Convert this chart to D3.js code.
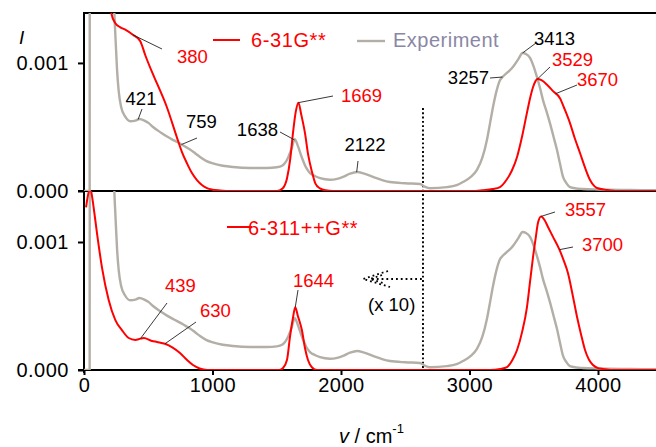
<!DOCTYPE html>
<html>
<head>
<meta charset="utf-8">
<script src="https://cdn.jsdelivr.net/npm/d3@7"></script>
<style>
  html, body { margin: 0; padding: 0; background: #fff; }
  svg { display: block; font-family: "Liberation Sans", Arial, sans-serif; }
</style>
</head>
<body>
<svg id="chart" width="656" height="447"></svg>
<script>
// ---- Spectra: wavenumber (cm^-1) and intensity I ----
// Experimental IR spectrum (drawn in both panels)
const expWavenumber = [0, 44, 46.5, 200, 228, 236, 244, 257, 270, 288, 321, 360, 400, 430, 470, 504, 537, 600, 646, 700, 747, 790, 825, 865, 903, 950, 1004, 1080, 1160, 1292, 1424, 1500, 1545, 1588, 1615, 1640, 1665, 1696, 1730, 1759, 1800, 1837, 1914, 1970, 2016, 2070, 2125, 2180, 2249, 2320, 2381, 2500, 2615, 2650, 2693, 2825, 2900, 2949, 3010, 3058, 3100, 3136, 3160, 3183, 3210, 3237, 3257, 3300, 3331, 3380, 3413, 3440, 3471, 3500, 3525, 3550, 3572, 3600, 3626, 3655, 3681, 3705, 3728, 3755, 3782, 3830, 3883, 4000, 4250, 4500];
const expIntensity = [0, 0, 0.006, 0.006, 0.0017, 0.00140, 0.00122, 0.00095, 0.00078, 0.00066, 0.00058, 0.000545, 0.00055, 0.000562, 0.00055, 0.00053, 0.0005, 0.000455, 0.000425, 0.000395, 0.00037, 0.000345, 0.000325, 0.000295, 0.000265, 0.000235, 0.000215, 0.000197, 0.000187, 0.00018, 0.00018, 0.000185, 0.0002, 0.00026, 0.00033, 0.000405, 0.00035, 0.00026, 0.00018, 0.00014, 0.000115, 0.0001, 0.000088, 0.000095, 0.00011, 0.000135, 0.000148, 0.000135, 0.00011, 0.000085, 0.00007, 0.00006, 0.000055, 0.000035, 0.000022, 0.00003, 0.000045, 0.00007, 0.00011, 0.000165, 0.00026, 0.0004, 0.00053, 0.000656, 0.00078, 0.000865, 0.00089, 0.00093, 0.00096, 0.00103, 0.001078, 0.00107, 0.00104, 0.00097, 0.00089, 0.0008, 0.00071, 0.00062, 0.00053, 0.00042, 0.00032, 0.00021, 0.00011, 0.00006, 0.00003, 0.00002, 0.000016, 0.000012, 0.000008, 0.000005];

// Calculated spectrum, 6-31G** basis
const b631Wavenumber = [150, 212, 244, 280, 321, 380, 438, 477, 529, 568, 643, 721, 760, 802, 840, 879, 920, 957, 1000, 1058, 1150, 1500, 1545, 1580, 1605, 1626, 1648, 1669, 1690, 1720, 1745, 1774, 1800, 1837, 1880, 1938, 3050, 3100, 3180, 3237, 3290, 3330, 3370, 3410, 3447, 3475, 3494, 3515, 3529, 3560, 3603, 3650, 3704, 3740, 3782, 3820, 3860, 3900, 3938, 3970, 3992, 4070, 4150, 4500];
const b631Intensity = [0.002, 0.00139, 0.00131, 0.00128, 0.00126, 0.00122, 0.00117, 0.00106, 0.00093, 0.00084, 0.00066, 0.000425, 0.00031, 0.000215, 0.00014, 0.000085, 0.000045, 0.000022, 0.00001, 0.000004, 0, 0, 0.00002, 0.0001, 0.00025, 0.00045, 0.00062, 0.00069, 0.0006, 0.00045, 0.00028, 0.00015, 0.00006, 0.00002, 0.000005, 0, 0, 0.000005, 0.000015, 0.000031, 0.00009, 0.00016, 0.000266, 0.00043, 0.00061, 0.00074, 0.00081, 0.00086, 0.000875, 0.000865, 0.00083, 0.00078, 0.000725, 0.00064, 0.00053, 0.00041, 0.000297, 0.00018, 0.000086, 0.00004, 0.000023, 0.000008, 0, 0];

// Calculated spectrum, 6-311++G** basis
const b6311Wavenumber = [16, 30, 49, 62, 75, 101, 140, 192, 244, 296, 348, 399, 439, 465, 529, 568, 630, 690, 747, 800, 848, 900, 957, 1520, 1549, 1580, 1603, 1625, 1644, 1665, 1696, 1720, 1743, 1775, 1813, 3160, 3240, 3292, 3335, 3370, 3410, 3447, 3470, 3494, 3515, 3533, 3557, 3585, 3611, 3650, 3700, 3735, 3766, 3800, 3837, 3870, 3899, 3930, 3961, 4000, 4039, 4100, 4500];
const b6311Intensity = [0.00127, 0.00136, 0.00142, 0.00136, 0.00127, 0.00107, 0.0008, 0.000547, 0.00039, 0.00031, 0.00025, 0.000235, 0.000245, 0.00025, 0.000227, 0.000219, 0.000205, 0.000175, 0.000133, 0.00008, 0.000039, 0.000012, 0, 0, 0.000016, 0.00008, 0.000258, 0.0004, 0.00049, 0.00042, 0.00031, 0.00017, 0.000078, 0.00002, 0, 0, 0.000008, 0.000023, 0.00008, 0.000156, 0.0003, 0.00049, 0.00068, 0.00088, 0.00103, 0.00115, 0.0012, 0.00117, 0.001117, 0.00104, 0.00094, 0.00085, 0.000758, 0.0006, 0.000414, 0.00027, 0.000156, 0.00008, 0.000039, 0.000015, 0.000008, 0, 0];

// Axes, legend and band labels
const xTicks = [0, 1000, 2000, 3000, 4000];
const yTicks = [0, 0.001];
const yTickLabels = ["0.000", "0.001"];
const seriesNames = { b631: "6-31G**", b6311: "6-311++G**", exp: "Experiment" };
const bands631 = [380, 1669, 3529, 3670];
const bandsExp = [421, 759, 1638, 2122, 3257, 3413];
const bands6311 = [439, 630, 1644, 3557, 3700];
const scaleNote = "(x 10)";
const splitWavenumber = 2638;

// ---- Layout ----
const W = 656, H = 447;
const RED = "#ff0000", GREY = "#b3afa7", LEGEND_GREY = "#8a87a6";

const svg = d3.select("#chart");
const x = d3.scaleLinear().domain([0, 4500]).range([84, 662.25]);

const panels = [
  { top: 13, base: 191, y: d3.scaleLinear().domain([0, 0.00139]).range([191, 13]) },
  { top: 191, base: 370, y: d3.scaleLinear().domain([0, 0.0014]).range([370, 190.8]) }
];

const defs = svg.append("defs");
panels.forEach((p, i) => {
  defs.append("clipPath").attr("id", "clip" + i)
    .append("rect").attr("x", 84).attr("y", p.top).attr("width", W - 84).attr("height", p.base - p.top);
});

// frame lines
const frame = svg.append("g").attr("stroke", "#000").attr("stroke-width", 2).attr("fill", "none");
frame.append("line").attr("x1", 84).attr("x2", W).attr("y1", 13).attr("y2", 13);
frame.append("line").attr("x1", 78).attr("x2", W).attr("y1", 191).attr("y2", 191);
frame.append("line").attr("x1", 78).attr("x2", W).attr("y1", 370).attr("y2", 370);
frame.append("line").attr("x1", 84).attr("x2", 84).attr("y1", 12).attr("y2", 373);

// y axes
panels.forEach(p => {
  const ax = svg.append("g").attr("transform", "translate(84,0)")
    .call(d3.axisLeft(p.y).tickValues(yTicks).tickFormat((d, i) => yTickLabels[i])
      .tickSize(6).tickSizeOuter(0).tickPadding(9));
  ax.select(".domain").remove();
  ax.selectAll(".tick line").attr("stroke", "#000").attr("stroke-width", 2);
  ax.selectAll(".tick text").attr("font-size", 20).attr("letter-spacing", 0.5)
    .attr("font-family", "Liberation Sans, Arial, sans-serif").attr("fill", "#000");
});

// x axis
const xa = svg.append("g").attr("transform", "translate(0,370)")
  .call(d3.axisBottom(x).tickValues(xTicks).tickFormat(d3.format("d"))
    .tickSize(5).tickSizeOuter(0).tickPadding(3));
xa.select(".domain").remove();
xa.selectAll(".tick line").attr("stroke", "#000").attr("stroke-width", 2);
xa.selectAll(".tick text").attr("font-size", 20).attr("letter-spacing", 0.5)
  .attr("font-family", "Liberation Sans, Arial, sans-serif").attr("fill", "#000");

// axis titles
const xt = svg.append("text").attr("x", 339).attr("y", 443).attr("font-size", 20).attr("fill", "#000");
xt.append("tspan").attr("font-style", "italic").text("v");
xt.append("tspan").text(" / cm");
xt.append("tspan").attr("font-size", 13).attr("dy", -10).text("-1");
svg.append("text").attr("x", 19).attr("y", 44).attr("font-size", 19).attr("font-style", "italic").text("I");

// split marker and magnification note
svg.append("line").attr("x1", x(splitWavenumber)).attr("x2", x(splitWavenumber))
  .attr("y1", 108).attr("y2", 370)
  .attr("stroke", "#000").attr("stroke-width", 1.9).attr("stroke-dasharray", "1.9,2.4");
const arrow = svg.append("g").attr("stroke", "#000").attr("stroke-width", 1.8)
  .attr("stroke-dasharray", "1.8,3").attr("fill", "none");
arrow.append("line").attr("x1", 372).attr("x2", x(splitWavenumber)).attr("y1", 279).attr("y2", 279);
arrow.append("path").attr("d", "M388,271 L363,279 L390,287");
arrow.append("path").attr("d", "M382,275 L370,279 L383,283");
svg.append("text").attr("x", 368).attr("y", 311).attr("font-size", 18.5).attr("fill", "#000").text(scaleNote);

// spectra
const zip = (xs, ys) => xs.map((w, i) => [w, ys[i]]);
const expData = zip(expWavenumber, expIntensity);
const b631Data = zip(b631Wavenumber, b631Intensity);
const b6311Data = zip(b6311Wavenumber, b6311Intensity);

function drawCurve(panelIndex, data, color, width) {
  const p = panels[panelIndex];
  const line = d3.line().x(d => x(d[0])).y(d => p.y(d[1])).curve(d3.curveMonotoneX);
  svg.append("path").attr("clip-path", "url(#clip" + panelIndex + ")")
    .attr("d", line(data)).attr("fill", "none")
    .attr("stroke", color).attr("stroke-width", width).attr("stroke-linejoin", "round");
}
drawCurve(0, expData, GREY, 2.4);
drawCurve(0, b631Data, RED, 2);
drawCurve(1, expData, GREY, 2.4);
drawCurve(1, b6311Data, RED, 2);

// legends
svg.append("line").attr("x1", 213).attr("x2", 240).attr("y1", 40).attr("y2", 40).attr("stroke", RED).attr("stroke-width", 2);
svg.append("text").attr("x", 251).attr("y", 47).attr("font-size", 20).attr("letter-spacing", 0.6).attr("fill", RED).text(seriesNames.b631);
svg.append("line").attr("x1", 357).attr("x2", 385).attr("y1", 41).attr("y2", 41).attr("stroke", GREY).attr("stroke-width", 2.4);
svg.append("text").attr("x", 393).attr("y", 47).attr("font-size", 20).attr("letter-spacing", 0.5).attr("fill", LEGEND_GREY).text(seriesNames.exp);
svg.append("line").attr("x1", 227).attr("x2", 252).attr("y1", 227).attr("y2", 227).attr("stroke", RED).attr("stroke-width", 2);
svg.append("text").attr("x", 248).attr("y", 235).attr("font-size", 20).attr("letter-spacing", 0.6).attr("fill", RED).text(seriesNames.b6311);

// band labels with leader lines from the curve
function interp(data, w) {
  for (let i = 1; i < data.length; i++) {
    if (data[i][0] >= w) {
      const [x0, y0] = data[i - 1], [x1, y1] = data[i];
      return y0 + (y1 - y0) * (w - x0) / (x1 - x0);
    }
  }
  return data[data.length - 1][1];
}
const layout631 = [
  { end: [162, 49], at: [177, 63], anchor: "start" },
  { end: [333, 96], at: [341, 102], anchor: "start" },
  { end: [550, 67], at: [552, 66], anchor: "start" },
  { end: [577, 85], at: [577, 86], anchor: "start" }
];
const layoutExp = [
  { end: [142, 109], at: [141, 105], anchor: "middle" },
  { end: [197, 138], at: [186, 128], anchor: "start" },
  { end: [280, 132], at: [278, 136], anchor: "end" },
  { end: [358, 161], at: [365, 151], anchor: "middle" },
  { end: [490, 78], at: [489, 84], anchor: "end" },
  { end: [536, 43], at: [534, 45], anchor: "start" }
];
const layout6311 = [
  { end: [167, 303], at: [165, 292], anchor: "start" },
  { end: [196, 322], at: [200, 317], anchor: "start" },
  { end: [298, 290], at: [293, 287], anchor: "start" },
  { end: [555, 212], at: [565, 216], anchor: "start" },
  { end: [573, 247], at: [582, 251], anchor: "start" }
];
function drawBands(bands, layout, data, panelIndex, color) {
  const p = panels[panelIndex];
  bands.forEach((w, i) => {
    const L = layout[i];
    svg.append("line")
      .attr("x1", x(w)).attr("y1", p.y(interp(data, w)))
      .attr("x2", L.end[0]).attr("y2", L.end[1])
      .attr("stroke", "#222").attr("stroke-width", 0.9);
    svg.append("text").attr("x", L.at[0]).attr("y", L.at[1])
      .attr("text-anchor", L.anchor).attr("font-size", 18.5).attr("fill", color).text(w);
  });
}
drawBands(bandsExp, layoutExp, expData, 0, "#000");
drawBands(bands631, layout631, b631Data, 0, RED);
drawBands(bands6311, layout6311, b6311Data, 1, RED);
</script>
</body>
</html>
